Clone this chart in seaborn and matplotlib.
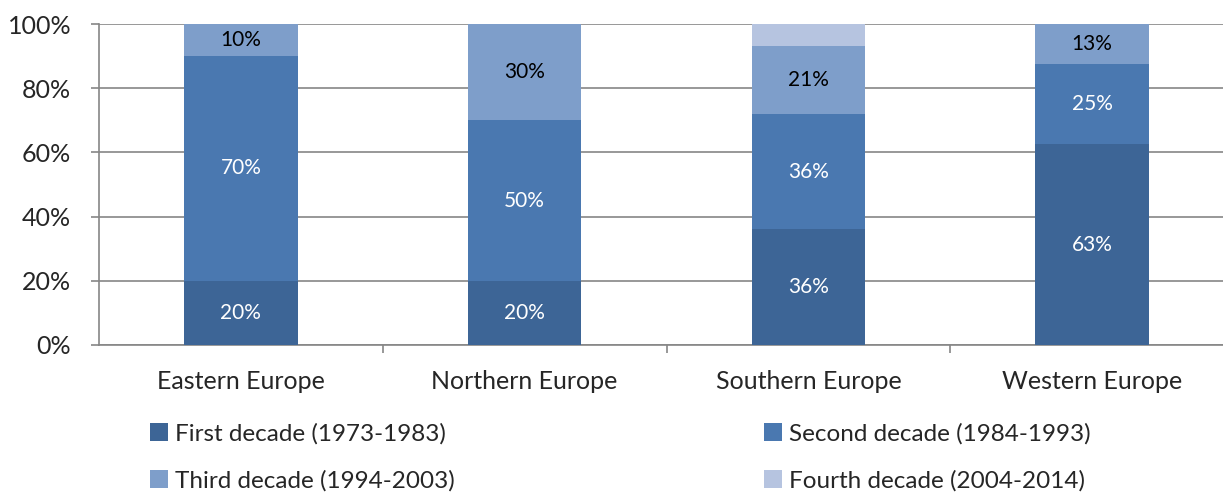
import numpy as np
import pandas as pd
import matplotlib
matplotlib.use("Agg")
import matplotlib.pyplot as plt
from matplotlib.patches import Patch
import seaborn as sns

regions = ["Eastern Europe", "Northern Europe", "Southern Europe", "Western Europe"]
decades = ["First decade (1973-1983)", "Second decade (1984-1993)",
           "Third decade (1994-2003)", "Fourth decade (2004-2014)"]
first = [20, 20, 36, 62.5]
second = [70, 50, 36, 25]
third = [10, 30, 21, 12.5]
fourth = [0, 0, 7, 0]
colors = ["#3d6596", "#4a78b0", "#7e9eca", "#b6c4e0"]
label_colors = ["white", "white", "black", None]  # fourth decade is not labelled

sns.set_style("white")
plt.rcParams["font.family"] = ["Lato", "DejaVu Sans"]

series = [first, second, third, fourth]
df = pd.DataFrame({"region": regions})
for name, vals in zip(decades, series):
    df[name] = vals
cum = df[decades].cumsum(axis=1)

fig = plt.figure(figsize=(12.23, 4.95), dpi=100)
ax = fig.add_axes([99 / 1223, 150 / 495, 1135 / 1223, 321 / 495])

# stacked bars: draw cumulative totals from the top segment down
for i in reversed(range(len(decades))):
    sns.barplot(data=df, x="region", y=cum[decades[i]], color=colors[i],
                width=0.4, saturation=1, edgecolor="none", ax=ax, zorder=3)

# segment labels
for i, name in enumerate(decades):
    if label_colors[i] is None:
        continue
    for j, v in enumerate(df[name]):
        if v <= 0:
            continue
        mid = cum[name][j] - v / 2
        ax.text(j, mid, f"{int(v + 0.5)}%", ha="center", va="center",
                color=label_colors[i], fontsize=15, zorder=4)

ax.set_ylim(0, 100)
ax.set_xlim(-0.5, 3.5)
ax.set_yticks(range(0, 101, 20))
ax.set_yticklabels([f"{t}%" for t in range(0, 101, 20)], fontsize=18)
ax.set_xticks(range(4))
ax.set_xticklabels(regions, fontsize=18)
ax.set_xticks([0.5, 1.5, 2.5], minor=True)
ax.set_xlabel("")
ax.set_ylabel("")
ax.yaxis.grid(True, color="#868686", linewidth=1.2, zorder=0)
ax.set_axisbelow(True)
ax.tick_params(axis="y", which="major", direction="out", length=6, width=1.2,
               color="#868686", pad=14, left=True)
ax.tick_params(axis="x", which="major", length=0, pad=18)
ax.tick_params(axis="x", which="minor", direction="out", length=6, width=1.2,
               color="#868686", bottom=True)
for side in ["top", "right"]:
    ax.spines[side].set_visible(False)
for side in ["left", "bottom"]:
    ax.spines[side].set_color("#868686")
    ax.spines[side].set_linewidth(1.2)

handles = [Patch(facecolor=c, edgecolor="none") for c in colors]
order = [0, 2, 1, 3]
fig.legend([handles[k] for k in order], [decades[k] for k in order],
           loc="upper left", bbox_to_anchor=(150 / 1223, 1 - 423 / 495),
           ncol=2, frameon=False, fontsize=17.5, handlelength=0.74, handleheight=0.74,
           handletextpad=0.28, columnspacing=12.74, labelspacing=1.05,
           borderaxespad=0, borderpad=0)

fig.savefig("out.png", dpi=100)
